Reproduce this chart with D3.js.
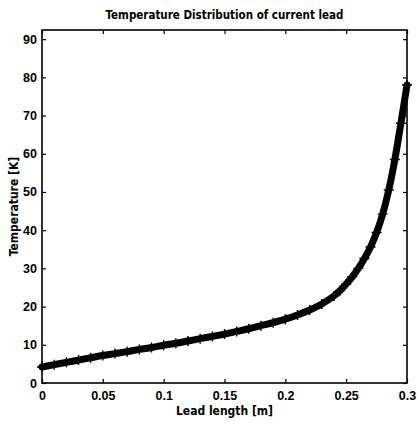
<!DOCTYPE html>
<html>
<head>
<meta charset="utf-8">
<script src="https://cdn.jsdelivr.net/npm/d3@7"></script>
<style>
  body { margin: 0; background: #fff; }
  text { fill: #000; }
</style>
</head>
<body>
<div id="chart"></div>
<script>
// lead position [m] and temperature [K]
const leadX = [0, 0.01, 0.02, 0.03, 0.04, 0.05, 0.06, 0.07, 0.08, 0.09,
               0.10, 0.11, 0.12, 0.13, 0.14, 0.15, 0.16, 0.17, 0.18, 0.19,
               0.20, 0.21, 0.22, 0.23, 0.24, 0.245, 0.25, 0.255, 0.26, 0.265,
               0.27, 0.275, 0.28, 0.285, 0.29, 0.295, 0.3];
const tempK = [4.2, 4.8, 5.4, 6.0, 6.6, 7.2, 7.7, 8.2, 8.8, 9.3,
               9.9, 10.4, 11.0, 11.6, 12.2, 12.8, 13.5, 14.2, 15.0, 15.8,
               16.7, 17.8, 19.1, 20.7, 22.8, 24.2, 25.9, 27.8, 30.0, 32.6,
               35.6, 39.4, 44.2, 50.5, 58.5, 68.0, 78.0];
const xTicks = [0, 0.05, 0.1, 0.15, 0.2, 0.25, 0.3];
const yTicks = [0, 10, 20, 30, 40, 50, 60, 70, 80, 90];

const W = 419, H = 427;
const margin = {top: 30, right: 12, bottom: 44, left: 42};
const innerW = W - margin.left - margin.right;
const innerH = H - margin.top - margin.bottom;
const narrow = "'Liberation Sans Narrow', 'DejaVu Sans Condensed', sans-serif";
const tickFont = "'Liberation Sans', Arial, sans-serif";

const svg = d3.select("#chart").append("svg")
    .attr("width", W).attr("height", H);
const g = svg.append("g").attr("transform", `translate(${margin.left},${margin.top})`);

const x = d3.scaleLinear().domain([0, 0.3]).range([0, innerW]);
const y = d3.scaleLinear().domain([0, 92.4]).range([innerH, 0]);

// ==== axes (matlab style: inward ticks on all four sides) ====
g.append("g").attr("transform", `translate(0,${innerH})`)
    .call(d3.axisBottom(x).tickValues(xTicks).tickSize(-4).tickPadding(8).tickFormat(d => String(d)))
    .call(a => a.select(".domain").remove());
g.append("g")
    .call(d3.axisTop(x).tickValues(xTicks).tickSize(-4).tickFormat(""))
    .call(a => a.select(".domain").remove());
g.append("g")
    .call(d3.axisLeft(y).tickValues(yTicks).tickSize(-4).tickPadding(5))
    .call(a => a.select(".domain").remove());
g.append("g").attr("transform", `translate(${innerW},0)`)
    .call(d3.axisRight(y).tickValues(yTicks).tickSize(-4).tickFormat(""))
    .call(a => a.select(".domain").remove());

g.selectAll(".tick line").attr("stroke", "#000").attr("stroke-width", 1.2);
g.selectAll(".tick text")
    .attr("font-family", tickFont).attr("font-size", "12.5px")
    .attr("font-weight", "bold").attr("fill", "#000");

// box
g.append("rect")
    .attr("width", innerW).attr("height", innerH)
    .attr("fill", "none").attr("stroke", "#000").attr("stroke-width", 1.6);

// ==== the curve: dense '+' markers read as a thick band ====
const pts = leadX.map((v, i) => [v, tempK[i]]);
g.append("path")
    .datum(pts)
    .attr("fill", "none")
    .attr("stroke", "#000")
    .attr("stroke-width", 7)
    .attr("stroke-linecap", "round")
    .attr("d", d3.line().x(d => x(d[0])).y(d => y(d[1])).curve(d3.curveMonotoneX));

g.selectAll(".mark")
    .data(pts)
    .join("path")
    .attr("class", "mark")
    .attr("transform", d => `translate(${x(d[0])},${y(d[1])})`)
    .attr("d", "M-5,0H5M0,-5V5")
    .attr("stroke", "#000")
    .attr("stroke-width", 1.4);

// ==== labels ====
svg.append("text")
    .attr("x", margin.left + innerW / 2).attr("y", 19)
    .attr("text-anchor", "middle")
    .attr("font-family", narrow).attr("font-size", "11.5px").attr("font-weight", "bold")
    .text("Temperature Distribution of current lead");

svg.append("text")
    .attr("x", margin.left + innerW / 2).attr("y", 415)
    .attr("text-anchor", "middle")
    .attr("font-family", narrow).attr("font-size", "12px").attr("font-weight", "bold")
    .text("Lead length [m]");

svg.append("text")
    .attr("transform", `translate(18,${margin.top + innerH / 2}) rotate(-90)`)
    .attr("text-anchor", "middle")
    .attr("font-family", narrow).attr("font-size", "12px").attr("font-weight", "bold")
    .text("Temperature [K]");
</script>
</body>
</html>
